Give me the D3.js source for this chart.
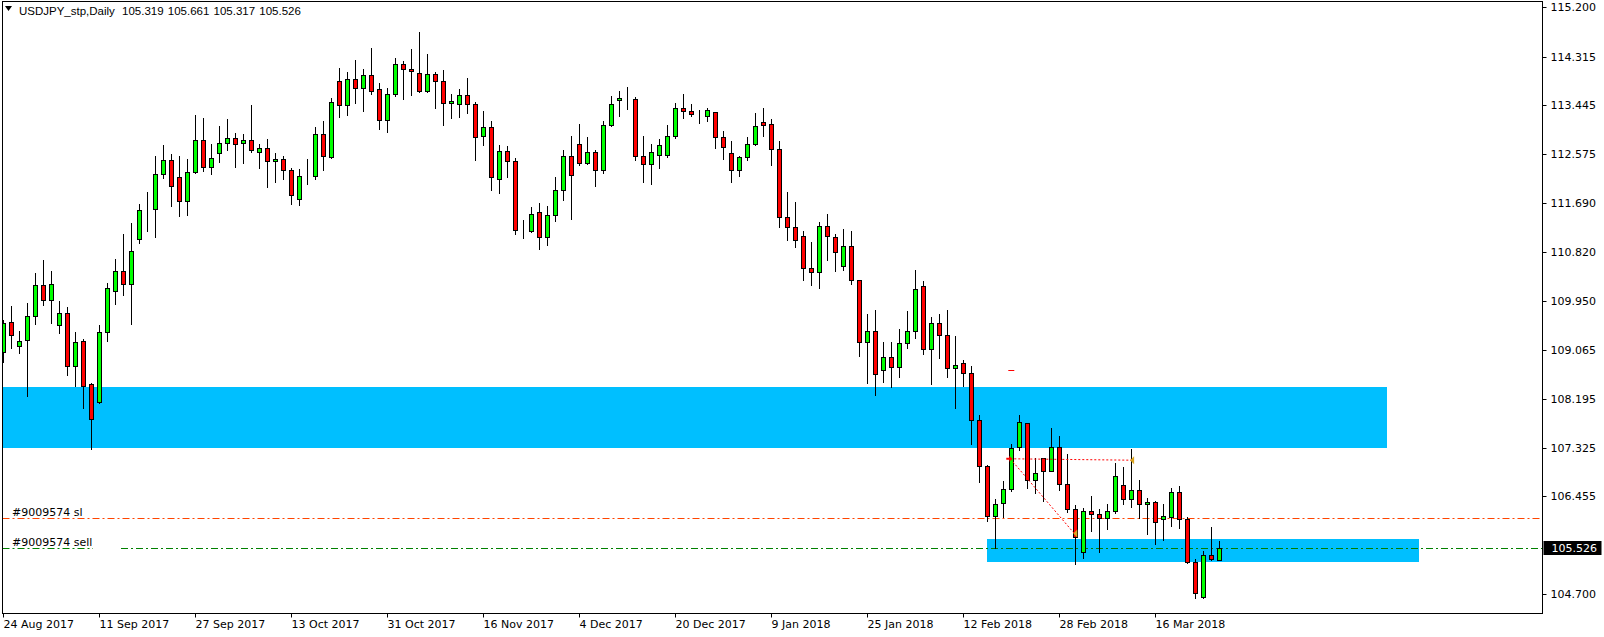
<!DOCTYPE html>
<html><head><meta charset="utf-8">
<script src="https://cdn.jsdelivr.net/npm/d3@7"></script>
<style>
html,body{margin:0;padding:0;background:#fff;}
svg{display:block;}
text{font-family:"DejaVu Sans",sans-serif;font-size:11px;fill:#000;}
</style></head><body>
<svg id="c" width="1604" height="637"></svg>
<script>
// ---------- DATA ----------
const dates = [
"2017-08-24","2017-08-25","2017-08-28","2017-08-29","2017-08-30","2017-08-31","2017-09-01","2017-09-04","2017-09-05","2017-09-06",
"2017-09-07","2017-09-08","2017-09-11","2017-09-12","2017-09-13","2017-09-14","2017-09-15","2017-09-18","2017-09-19","2017-09-20",
"2017-09-21","2017-09-22","2017-09-25","2017-09-26","2017-09-27","2017-09-28","2017-09-29","2017-10-02","2017-10-03","2017-10-04",
"2017-10-05","2017-10-06","2017-10-09","2017-10-10","2017-10-11","2017-10-12","2017-10-13","2017-10-16","2017-10-17","2017-10-18",
"2017-10-19","2017-10-20","2017-10-23","2017-10-24","2017-10-25","2017-10-26","2017-10-27","2017-10-30","2017-10-31","2017-11-01",
"2017-11-02","2017-11-03","2017-11-06","2017-11-07","2017-11-08","2017-11-09","2017-11-10","2017-11-13","2017-11-14","2017-11-15",
"2017-11-16","2017-11-17","2017-11-20","2017-11-21","2017-11-22","2017-11-23","2017-11-24","2017-11-27","2017-11-28","2017-11-29",
"2017-11-30","2017-12-01","2017-12-04","2017-12-05","2017-12-06","2017-12-07","2017-12-08","2017-12-11","2017-12-12","2017-12-13",
"2017-12-14","2017-12-15","2017-12-18","2017-12-19","2017-12-20","2017-12-21","2017-12-22","2017-12-26","2017-12-27","2017-12-28",
"2017-12-29","2018-01-02","2018-01-03","2018-01-04","2018-01-05","2018-01-08","2018-01-09","2018-01-10","2018-01-11","2018-01-12",
"2018-01-15","2018-01-16","2018-01-17","2018-01-18","2018-01-19","2018-01-22","2018-01-23","2018-01-24","2018-01-25","2018-01-26",
"2018-01-29","2018-01-30","2018-01-31","2018-02-01","2018-02-02","2018-02-05","2018-02-06","2018-02-07","2018-02-08","2018-02-09",
"2018-02-12","2018-02-13","2018-02-14","2018-02-15","2018-02-16","2018-02-19","2018-02-20","2018-02-21","2018-02-22","2018-02-23",
"2018-02-26","2018-02-27","2018-02-28","2018-03-01","2018-03-02","2018-03-05","2018-03-06","2018-03-07","2018-03-08","2018-03-09",
"2018-03-12","2018-03-13","2018-03-14","2018-03-15","2018-03-16","2018-03-19","2018-03-20","2018-03-21","2018-03-22","2018-03-23",
"2018-03-26","2018-03-27","2018-03-28"];

const open = [
109.027,109.564,109.135,109.242,109.671,110.225,109.969,109.510,109.725,108.789,
109.224,108.455,108.145,109.385,110.118,110.476,110.243,111.061,111.556,111.586,
112.212,112.462,112.158,111.729,112.247,112.819,112.337,112.587,112.766,112.855,
112.766,112.819,112.605,112.677,112.444,112.480,112.283,111.765,112.194,112.188,
112.927,112.528,113.875,113.446,113.911,113.750,113.982,113.732,113.177,113.642,
114.179,114.089,114.018,113.696,114.000,113.875,113.481,113.464,113.624,113.464,
112.891,113.052,112.123,112.623,112.444,111.210,111.192,111.532,111.085,111.478,
111.925,112.533,112.748,112.408,112.605,112.283,113.087,113.534,113.550,113.552,
112.533,112.390,112.551,112.551,112.891,113.391,113.338,113.242,113.248,113.320,
112.873,112.587,112.283,112.515,112.748,113.142,113.106,112.659,111.443,111.264,
111.103,110.531,110.460,111.282,111.085,110.567,110.925,110.317,109.208,109.405,
108.707,108.940,108.761,109.190,109.405,110.209,109.083,109.548,109.333,108.743,
108.833,108.654,107.814,106.991,106.109,106.330,106.580,107.331,107.760,106.741,
107.134,106.902,107.331,106.669,106.222,105.459,106.187,106.133,106.061,106.187,
106.651,106.401,106.562,106.312,106.347,106.043,106.079,106.526,106.043,105.275,
104.649,105.400,105.319];

const high = [
109.606,109.856,109.409,109.910,110.446,110.678,110.482,109.945,109.838,109.391,
109.266,108.479,109.516,110.267,110.696,111.150,111.341,111.681,111.896,112.539,
112.736,112.575,112.539,112.486,113.272,113.219,112.754,113.076,113.201,112.945,
112.927,113.451,112.754,112.844,112.587,112.534,112.319,112.301,112.480,113.052,
113.160,113.571,114.113,114.036,114.256,114.095,114.471,113.839,113.750,114.286,
114.232,114.453,114.757,114.363,114.036,114.071,113.642,113.732,113.928,113.499,
113.338,113.160,112.730,112.712,112.497,111.389,111.627,111.693,111.639,112.158,
112.640,112.891,113.105,112.873,112.640,113.159,113.606,113.695,113.767,113.588,
112.891,112.748,112.837,113.087,113.481,113.642,113.463,113.356,113.391,113.320,
112.980,112.801,112.533,112.873,113.302,113.392,113.195,112.802,111.890,111.711,
111.193,110.996,111.354,111.497,111.139,111.229,111.193,110.329,109.709,109.780,
109.208,109.208,109.441,109.762,110.495,110.299,109.655,109.709,109.780,109.315,
108.892,108.779,107.903,107.009,106.401,106.723,107.390,107.903,107.760,107.134,
107.134,107.671,107.528,107.206,106.294,106.240,106.455,106.222,106.312,107.045,
106.979,107.295,106.741,106.419,106.365,106.312,106.598,106.634,106.079,105.328,
105.471,105.900,105.661];

const low = [
108.849,109.111,109.022,108.253,109.540,109.880,109.558,109.379,108.628,108.431,
108.038,107.299,108.128,109.236,109.898,110.059,109.540,110.990,111.204,111.097,
112.140,111.651,111.472,111.490,112.229,112.265,112.212,112.438,112.641,112.337,
112.420,112.605,112.331,111.991,112.081,112.134,111.687,111.670,112.045,112.134,
112.295,112.510,113.243,113.267,113.493,113.350,113.642,113.028,112.963,113.607,
113.553,113.636,113.690,113.690,113.404,113.100,113.225,113.243,113.315,112.474,
112.742,111.938,111.884,112.170,111.139,111.067,111.174,110.870,110.942,111.371,
111.746,111.407,112.372,112.390,111.997,112.229,113.080,113.248,113.374,112.462,
112.068,112.033,112.319,112.515,112.855,113.213,113.248,113.123,113.159,112.676,
112.480,112.068,112.176,112.462,112.730,112.891,112.373,111.276,111.044,110.919,
110.329,110.239,110.186,110.686,110.489,110.507,110.257,108.970,108.487,108.272,
108.505,108.415,108.594,109.101,109.280,108.994,108.457,108.922,108.582,108.040,
108.433,107.396,106.717,106.020,105.525,106.091,106.544,107.277,106.598,106.508,
106.365,106.900,106.562,106.169,105.239,105.346,105.841,105.453,105.877,106.151,
106.312,106.258,106.061,105.775,105.597,105.668,105.918,105.883,105.257,104.631,
104.631,105.310,105.317];

const close = [
109.546,109.331,109.224,109.671,110.225,109.969,110.243,109.725,108.789,109.206,
108.420,107.830,109.385,110.172,110.476,110.243,110.833,111.568,111.556,112.212,
112.462,111.997,111.729,112.247,112.819,112.337,112.498,112.766,112.855,112.748,
112.819,112.641,112.677,112.444,112.480,112.283,111.848,112.188,112.194,112.927,
112.534,113.499,113.446,113.911,113.750,113.982,113.696,113.177,113.642,114.179,
114.089,114.054,113.696,114.000,113.875,113.481,113.517,113.624,113.464,112.873,
113.052,112.158,112.623,112.444,111.210,111.210,111.496,111.085,111.478,111.925,
112.533,112.193,112.408,112.605,112.283,113.087,113.463,113.570,113.550,112.533,
112.390,112.605,112.730,112.891,113.391,113.338,113.284,113.242,113.356,112.873,
112.694,112.283,112.515,112.748,113.070,113.088,112.659,111.443,111.264,111.032,
110.531,110.472,111.282,111.103,110.817,110.925,110.317,109.208,109.405,108.636,
108.940,108.761,109.190,109.405,110.156,109.083,109.548,109.333,108.743,108.797,
108.654,107.814,106.991,106.109,106.312,106.580,107.313,107.778,106.741,106.866,
106.902,107.331,106.669,106.222,105.722,106.187,106.133,106.061,106.187,106.812,
106.401,106.562,106.312,106.347,105.990,106.097,106.526,106.043,105.275,104.720,
105.400,105.328,105.526];

const priceTicks = [115.200,114.315,113.445,112.575,111.690,110.820,109.950,109.065,108.195,107.325,106.455,104.700];
const tickLabels = ["24 Aug 2017","11 Sep 2017","27 Sep 2017","13 Oct 2017","31 Oct 2017","16 Nov 2017","4 Dec 2017","20 Dec 2017","9 Jan 2018","25 Jan 2018","12 Feb 2018","28 Feb 2018","16 Mar 2018"];

const headerSymbol = "USDJPY_stp,Daily";
const headerValues = [105.319, 105.661, 105.317, 105.526];
const currentPrice = 105.526;

// supply/demand zones (bar index range, price range)
const zoneFrom = [-3, 122.9];
const zoneTo = [172.9, 176.9];
const zoneLow = [107.318, 105.286];
const zoneHigh = [108.417, 105.692];

// order lines
const orderLabels = ["#9009574 sl", "#9009574 sell"];
const orderPrices = [106.062, 105.526];

// trade history
const tradeOpenBar = [125.6, 125.6];
const tradeOpenPrice = [107.125, 107.125];
const tradeCloseBar = [141.2, 134.1];
const tradeClosePrice = [107.100, 105.790];
const slMarkBar = 125.6, slMarkPrice = 108.708;

// ---------- CHART ----------
const svg = d3.select("#c");
const L = 2.5, R = 1542.5, T = 1.5, B = 613.5;
const x = d3.scaleLinear().domain([0, dates.length - 1]).range([3.5, 3.5 + 8 * (dates.length - 1)]);
const y = d3.scaleLinear().domain([104.7, 115.2]).range([594.4, 7.2]);
const snap = v => Math.round(v) + 0.5;

svg.append("defs").append("clipPath").attr("id", "plot")
  .append("rect").attr("x", L + 0.5).attr("y", T + 0.5).attr("width", R - L - 1).attr("height", B - T - 1);
const plot = svg.append("g").attr("clip-path", "url(#plot)");

// zones
plot.selectAll("rect.zone").data(zoneFrom.map((f, i) => i)).join("rect")
  .attr("class", "zone")
  .attr("x", i => Math.round(x(zoneFrom[i])))
  .attr("width", i => Math.round(x(zoneTo[i])) - Math.round(x(zoneFrom[i])))
  .attr("y", i => Math.round(y(zoneHigh[i])))
  .attr("height", i => Math.round(y(zoneLow[i])) - Math.round(y(zoneHigh[i])))
  .attr("fill", "#00BFFF");

// order lines
const lineColors = ["#FF4500", "#008000"];
orderPrices.forEach((p, i) => {
  const yy = snap(y(p));
  const segs = i === 0 ? [[L, R]] : [[L, 93], [121, R]];
  segs.forEach(s => {
    plot.append("line").attr("x1", s[0]).attr("x2", s[1]).attr("y1", yy).attr("y2", yy)
      .attr("stroke", lineColors[i]).attr("stroke-width", 1).attr("stroke-dasharray", "7,3,2,3");
  });
  plot.append("text").attr("x", 12).attr("y", yy - 3).text(orderLabels[i]);
});

// candles
const idx = d3.range(dates.length);
const cg = plot.append("g");
cg.selectAll("line.wick").data(idx).join("line")
  .attr("x1", i => x(i)).attr("x2", i => x(i))
  .attr("y1", i => Math.round(y(high[i]))).attr("y2", i => Math.round(y(low[i])) + 1)
  .attr("stroke", "#000").attr("stroke-width", 1);
cg.selectAll("rect.body").data(idx).join("rect")
  .attr("x", i => x(i) - 2).attr("width", 4)
  .attr("y", i => snap(y(Math.max(open[i], close[i]))))
  .attr("height", i => snap(y(Math.min(open[i], close[i]))) - snap(y(Math.max(open[i], close[i]))))
  .attr("fill", i => close[i] > open[i] ? "#00FF00" : (close[i] < open[i] ? "#FF0000" : "#000"))
  .attr("stroke", "#000").attr("stroke-width", 1);

// trade history
tradeOpenBar.forEach((b, i) => {
  plot.append("line")
    .attr("x1", x(b) + 2).attr("y1", y(tradeOpenPrice[i]))
    .attr("x2", x(tradeCloseBar[i]) - 2).attr("y2", y(tradeClosePrice[i]))
    .attr("stroke", "#FF0000").attr("stroke-width", 1).attr("stroke-dasharray", "2,2");
  const cx = x(tradeCloseBar[i]), cy = y(tradeClosePrice[i]);
  plot.append("path").attr("d", `M${cx - 3},${cy} L${cx + 1},${cy - 4} L${cx + 1},${cy + 4} Z`).attr("fill", "#DAA520");
});
{
  const ox = x(tradeOpenBar[0]), oy = y(tradeOpenPrice[0]);
  plot.append("path").attr("d", `M${ox - 2},${oy - 1} h3 v-2 l3,3 l-3,3 v-2 h-3 Z`).attr("fill", "#FF0000");
  plot.append("line").attr("x1", x(slMarkBar)).attr("x2", x(slMarkBar) + 6)
    .attr("y1", snap(y(slMarkPrice))).attr("y2", snap(y(slMarkPrice)))
    .attr("stroke", "#FF0000").attr("stroke-width", 1);
}

// frame
svg.append("rect").attr("x", L).attr("y", T).attr("width", R - L).attr("height", B - T)
  .attr("fill", "none").attr("stroke", "#000").attr("stroke-width", 1);

// right axis
const ya = d3.axisRight(y).tickValues(priceTicks).tickSize(4).tickPadding(4).offset(0)
  .tickFormat(d3.format(".3f"));
const yg = svg.append("g").attr("transform", `translate(${R},0)`).call(ya);
yg.select(".domain").remove();
yg.selectAll("text").style("font-family", "DejaVu Sans").style("font-size", "11px").attr("fill", "#000");
yg.selectAll("line").attr("stroke", "#000");
yg.selectAll(".tick").attr("transform", d => `translate(0,${snap(y(d))})`);

// current price tag
const cpY = snap(y(currentPrice));
svg.append("rect").attr("x", R + 1).attr("y", cpY - 7.5).attr("width", 58).attr("height", 14).attr("fill", "#000");
svg.append("text").attr("x", R + 9).attr("y", cpY).attr("dy", "0.35em").attr("fill", "#fff")
  .style("fill", "#fff").text(d3.format(".3f")(currentPrice));

// bottom axis
const parse = d3.timeParse("%-d %b %Y"), fmt = d3.timeFormat("%Y-%m-%d");
const tickIdx = tickLabels.map(l => dates.indexOf(fmt(parse(l))));
const xa = d3.axisBottom(x).tickValues(tickIdx).tickSize(4).tickPadding(3).offset(0)
  .tickFormat((d, i) => tickLabels[i]);
const xg = svg.append("g").attr("transform", `translate(0,${B})`).call(xa);
xg.select(".domain").remove();
xg.selectAll("text").attr("text-anchor", "start").attr("x", 0)
  .style("font-family", "DejaVu Sans").style("font-size", "11px").attr("fill", "#000");
xg.selectAll("line").attr("stroke", "#000");

// header
svg.append("path").attr("d", "M5,6 L12,6 L8.5,11 Z").attr("fill", "#000");
svg.append("text").attr("x", 19).attr("y", 15).style("font-family", "'Liberation Sans', Arial, sans-serif")
  .style("font-size", "11.5px").text(headerSymbol);
svg.append("text").attr("x", 122).attr("y", 15).style("font-family", "'Liberation Sans', Arial, sans-serif")
  .style("font-size", "11.5px").style("word-spacing", "1px")
  .text(headerValues.map(d3.format(".3f")).join(" "));
</script>
</body></html>
